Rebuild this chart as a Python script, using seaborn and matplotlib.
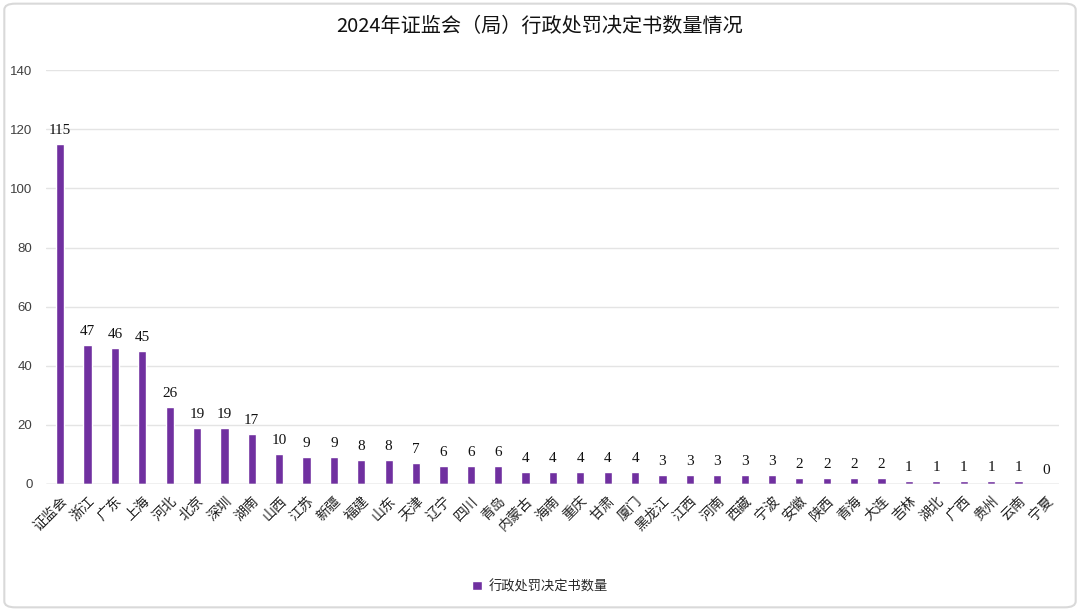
import numpy as np
import pandas as pd
import matplotlib
matplotlib.use("Agg")
import matplotlib.pyplot as plt
import seaborn as sns
from matplotlib.patches import FancyBboxPatch

regions = ["证监会", "浙江", "广东", "上海", "河北", "北京", "深圳", "湖南", "山西", "江苏",
           "新疆", "福建", "山东", "天津", "辽宁", "四川", "青岛", "内蒙古", "海南", "重庆",
           "甘肃", "厦门", "黑龙江", "江西", "河南", "西藏", "宁波", "安徽", "陕西", "青海",
           "大连", "吉林", "湖北", "广西", "贵州", "云南", "宁夏"]
counts = [115, 47, 46, 45, 26, 19, 19, 17, 10, 9,
          9, 8, 8, 7, 6, 6, 6, 4, 4, 4,
          4, 4, 3, 3, 3, 3, 3, 2, 2, 2,
          2, 1, 1, 1, 1, 1, 0]
series_name = "行政处罚决定书数量"
title = "2024年证监会（局）行政处罚决定书数量情况"
yticks = [0, 20, 40, 60, 80, 100, 120, 140]

PURPLE = "#7030A0"
CJK = ["Noto Sans CJK SC", "DejaVu Sans"]

sns.set_style("white")
plt.rcParams["font.family"] = CJK

df = pd.DataFrame({"region": regions, "count": counts})

fig = plt.figure(figsize=(10.8, 6.11), dpi=100)
ax = fig.add_axes([0.043, 0.208, 0.938, 0.677])

sns.barplot(data=df, x="region", y="count", color=PURPLE, width=0.3,
            saturation=1, label=series_name, ax=ax)

ax.set_ylim(0, 140)
ax.set_xlim(-0.5, len(regions) - 0.5)
ax.set_yticks(yticks)
ax.set_yticklabels([str(t) for t in yticks], family=["Liberation Sans"], fontsize=9.5,
                   color="#404040")
ax.tick_params(axis="y", length=0, pad=10)
ax.tick_params(axis="x", length=0, pad=7)
ax.grid(axis="y", color="#e4e4e4", linewidth=1)
ax.set_axisbelow(True)
for s in ax.spines.values():
    s.set_visible(False)
ax.axhline(0, color="#d0d0d0", linewidth=1, zorder=1)

ax.set_xticks(range(len(regions)))
ax.set_xticklabels(regions, rotation=45, ha="right", rotation_mode="anchor",
                   fontsize=10, color="#222222")
ax.set_xlabel("")
ax.set_ylabel("")

for i, v in enumerate(counts):
    ax.annotate(str(v), (i, v), xytext=(0, 5), textcoords="offset points",
                ha="center", va="bottom", fontsize=11, family=["Liberation Serif"],
                color="#111111")

fig.text(0.5, 0.957, title, ha="center", va="center", fontsize=14.5, color="#111111")

ax.legend(loc="center", bbox_to_anchor=(0.5, 0.04), bbox_transform=fig.transFigure,
          frameon=False, fontsize=9.5, handlelength=0.7, handleheight=0.7,
          handletextpad=0.5)

border = FancyBboxPatch((0.004, 0.006), 0.992, 0.988, boxstyle="round,pad=0,rounding_size=0.01",
                        transform=fig.transFigure, fill=False, edgecolor="#d9d9d9",
                        linewidth=1.5)
fig.patches.append(border)

fig.savefig("out.png", dpi=100)
